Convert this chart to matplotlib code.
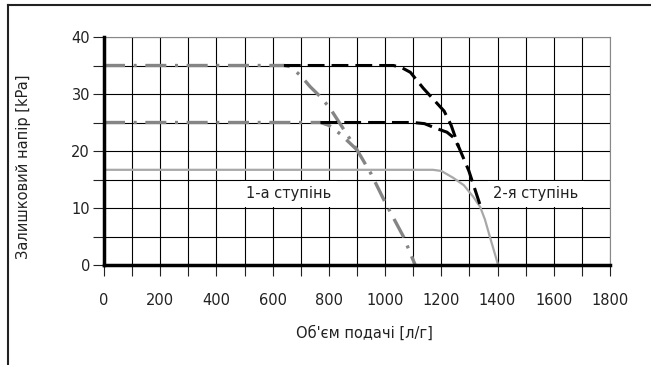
import matplotlib.pyplot as plt
from matplotlib.lines import Line2D
from matplotlib.ticker import MultipleLocator

# 1st stage (grey dash-dot)
s1_hi_x = [0, 640, 662, 700, 733, 770, 804, 850, 900, 950, 1000, 1065, 1107]
s1_hi_y = [35, 35, 34.8, 33.2, 31.3, 29.5, 27.5, 24, 20.2, 16, 11, 5, 0]
s1_lo_x = [0, 770, 800, 840, 870, 900]
s1_lo_y = [25, 25, 24.5, 23, 21.6, 20.2]

# 2nd stage (black dashed)
s2_hi_x = [640, 1030, 1060, 1090, 1136, 1184, 1210, 1235, 1262, 1298, 1338]
s2_hi_y = [35, 35, 34.6, 33.8, 31, 28.4, 27, 24.5, 20.7, 16.5, 10.5]
s2_lo_x = [770, 1100, 1140, 1180, 1220, 1245, 1262]
s2_lo_y = [25, 25, 24.8, 24.0, 23.3, 22.3, 20.7]

# pump curve (grey solid)
pump_x = [0, 1170, 1200, 1242, 1280, 1313, 1338, 1355, 1373, 1402]
pump_y = [16.7, 16.7, 16.5, 15.3, 14, 12, 10.2, 8, 4.9, 0]

x_ticks = [0, 200, 400, 600, 800, 1000, 1200, 1400, 1600, 1800]
y_ticks = [0, 10, 20, 30, 40]

plt.rcParams['font.family'] = ['DejaVu Sans']

fig = plt.figure(figsize=(6.51, 3.65), dpi=100)
ax = fig.add_axes([104 / 651, 1 - 265 / 365, 506 / 651, 228 / 365])

ax.plot(pump_x, pump_y, color='#a8a8a8', lw=1.6, solid_capstyle='butt', zorder=3)
dd = (0, (6.3, 2.6, 0.9, 2.6))
ax.plot(s1_hi_x, s1_hi_y, color='#858585', lw=2.4, linestyle=dd, zorder=4)
ax.plot(s1_lo_x, s1_lo_y, color='#858585', lw=2.4, linestyle=dd, zorder=4)
ax.plot(s2_hi_x, s2_hi_y, color='black', lw=2.2, linestyle=(0, (5.5, 2.3)), zorder=5)
ax.plot(s2_lo_x, s2_lo_y, color='black', lw=2.2, linestyle=(0, (5.5, 2.3)), zorder=5)

ax.set_xlim(0, 1800)
ax.set_ylim(0, 40)
ax.set_xticks(x_ticks)
ax.set_yticks(y_ticks)
ax.xaxis.set_minor_locator(MultipleLocator(100))
ax.yaxis.set_minor_locator(MultipleLocator(5))
ax.grid(True, which='both', color='black', lw=0.8, zorder=1)
ax.set_axisbelow(True)
ax.tick_params(which='both', direction='out', length=8, width=0.8, color='#333333')
ax.tick_params(axis='x', which='both', pad=12, labelsize=10.5, colors='#222222')
ax.tick_params(axis='y', which='both', pad=2, labelsize=10.5, colors='#222222')

ax.spines['left'].set_linewidth(2.5)
ax.spines['bottom'].set_linewidth(2.5)
ax.spines['left'].set_zorder(6)
ax.spines['bottom'].set_zorder(6)
ax.spines['top'].set_color('#888888')
ax.spines['right'].set_color('#888888')

box = dict(facecolor='white', edgecolor='none', pad=4)
ax.text(658, 12.5, '1-а ступінь', ha='center', va='center', fontsize=10.5,
        color='#222222', bbox=box, zorder=2)
ax.text(1537, 12.5, '2-я ступінь', ha='center', va='center', fontsize=10.5,
        color='#222222', bbox=box, zorder=2)

fig.text(364 / 651, 1 - 333 / 365, "Об'єм подачі [л/г]", ha='center', va='center',
         fontsize=10.5, color='#222222')
fig.text(23 / 651, 1 - 167 / 365, 'Залишковий напір [kPa]', ha='center', va='center',
         rotation=90, fontsize=10.5, color='#222222')

# frame around the picture
fig.add_artist(Line2D([8 / 651, 1], [1 - 5 / 365] * 2, color='#222222', lw=1.5))
fig.add_artist(Line2D([8 / 651] * 2, [0, 1 - 5 / 365], color='#222222', lw=1.5))

fig.savefig('out.png', dpi=100)
